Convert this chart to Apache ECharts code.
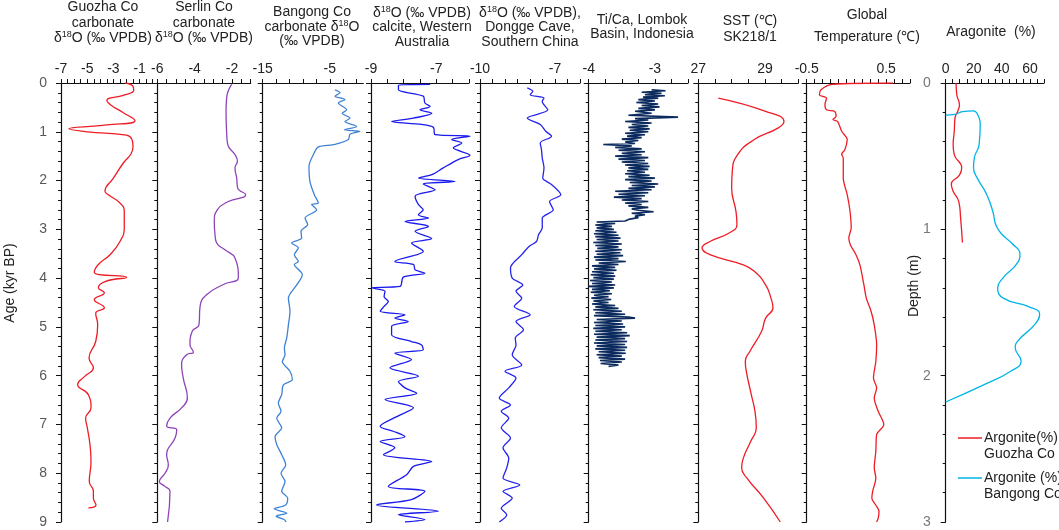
<!DOCTYPE html>
<html>
<head>
<meta charset="utf-8">
<script src="https://cdn.jsdelivr.net/npm/echarts@6/dist/echarts.min.js"></script>
<style>
  html, body { margin: 0; padding: 0; background: #fff; }
  #chart { width: 1059px; height: 530px; }
</style>
</head>
<body>
<div id="chart"></div>
<script>
const FONT = 'Arial, "Liberation Sans", sans-serif';

// ---- data: [age (kyr BP), value] ----
const guozhaD18O = [[0,-2.1],[0.07,-1.5],[0.15,-1.45],[0.25,-2.2],[0.36,-3.5],[0.45,-3.2],[0.6,-2.3],[0.77,-1.35],
  [0.86,-3.5],[0.94,-6.4],[1.0,-5.0],[1.07,-2.0],[1.15,-1.6],[1.3,-1.5],[1.45,-1.65],[1.64,-2.24],[1.95,-3.0],
  [2.22,-3.64],[2.29,-3.39],[2.46,-2.5],[2.63,-2.17],[2.97,-2.17],[3.25,-2.5],[3.52,-3.26],[3.72,-4.15],
  [3.88,-4.46],[3.98,-1.99],[4.07,-3.64],[4.2,-4.15],[4.3,-3.69],[4.44,-4.46],[4.61,-3.69],[4.72,-4.35],
  [4.96,-4.2],[5.3,-4.35],[5.64,-4.86],[5.84,-4.53],[6.01,-5.17],[6.18,-5.73],[6.39,-4.91],[6.66,-4.71],
  [6.87,-5.12],[7.07,-4.99],[7.41,-4.79],[7.76,-4.71],[8.17,-4.84],[8.37,-4.53],[8.51,-4.53],[8.65,-4.33],[8.71,-4.91]];

const serlinD18O = [[0.03,-2.02],[0.31,-2.29],[0.58,-2.32],[1.0,-2.29],[1.26,-2.23],[1.47,-1.84],[1.6,-1.71],
  [1.74,-1.84],[1.95,-1.75],[2.15,-1.7],[2.29,-1.27],[2.43,-2.2],[2.6,-2.79],[2.84,-2.95],[3.11,-2.91],
  [3.28,-2.82],[3.42,-2.38],[3.59,-1.84],[3.98,-1.66],[4.13,-2.46],[4.34,-3.36],[4.58,-3.71],[4.96,-3.77],
  [5.09,-4.13],[5.36,-4.25],[5.52,-4.07],[5.57,-4.43],[5.77,-4.7],[6.05,-4.61],[6.46,-4.39],[6.66,-4.7],
  [6.87,-5.32],[7.03,-5.5],[7.11,-4.96],[7.28,-5.05],[7.62,-5.5],[7.83,-5.41],[8.0,-5.59],[8.17,-5.89],
  [8.27,-5.59],[8.37,-5.32],[9.0,-5.45]];

const bangongD18O = [[0.14,-4.22],[0.2,-3.47],[0.27,-4.22],[0.34,-2.73],[0.41,-3.72],[0.55,-2.48],[0.62,-3.13],
  [0.72,-1.98],[0.79,-2.73],[0.89,-0.99],[0.96,-2.83],[0.99,-0.49],[1.05,-1.98],[1.16,-2.23],[1.26,-4.22],
  [1.31,-6.7],[1.47,-7.45],[1.71,-8.1],[2.02,-7.95],[2.29,-7.3],[2.46,-6.7],[2.49,-7.7],[2.6,-6.95],
  [2.77,-8.69],[2.9,-8.29],[3.04,-9.29],[3.18,-9.19],[3.28,-10.68],[3.38,-9.68],[3.52,-10.28],[3.66,-9.68],
  [3.72,-10.28],[3.93,-9.09],[4.14,-9.93],[4.41,-11.17],[4.68,-10.93],[4.96,-11.17],[5.23,-11.42],
  [5.43,-11.77],[5.57,-11.67],[5.71,-12.07],[5.91,-10.93],[6.08,-10.58],[6.19,-11.92],[6.39,-12.17],
  [6.56,-12.67],[6.73,-12.27],[6.87,-12.91],[7.07,-12.17],[7.25,-13.16],[7.41,-12.91],[7.62,-12.17],
  [7.83,-11.57],[8.0,-12.27],[8.17,-11.67],[8.37,-12.17],[8.51,-11.27],[8.65,-11.57],[8.73,-13.3],
  [8.82,-11.4],[8.88,-13.0],[8.95,-11.8],[9.0,-11.5]];

const waD18O = [[0.03,-7.19],[0.04,-8.16],[0.14,-8.16],[0.27,-7.4],[0.41,-7.35],[0.48,-7.19],[0.55,-7.5],
  [0.62,-7.14],[0.72,-7.7],[0.79,-8.37],[0.85,-7.45],[0.91,-7.09],[1.06,-7.04],[1.09,-5.97],[1.16,-6.53],
  [1.23,-6.22],[1.33,-6.48],[1.48,-5.97],[1.57,-6.33],[1.74,-6.79],[1.88,-7.14],[1.95,-7.55],[2.02,-6.43],
  [2.07,-7.4],[2.19,-7.04],[2.32,-7.65],[2.49,-7.55],[2.6,-7.4],[2.7,-7.55],[2.77,-7.24],[2.84,-7.96],
  [2.94,-7.24],[3.04,-7.65],[3.19,-7.14],[3.28,-7.76],[3.45,-7.4],[3.66,-8.27],[3.72,-7.7],[3.83,-7.65],
  [3.9,-7.35],[3.98,-8.01],[4.17,-8.11],[4.2,-8.98],[4.27,-8.57],[4.38,-8.6],[4.48,-8.47],[4.58,-8.6],
  [4.68,-8.72],[4.75,-7.96],[4.82,-8.27],[4.89,-7.86],[4.99,-8.37],[5.16,-8.37],[5.3,-7.76],[5.37,-7.45],
  [5.47,-7.4],[5.54,-8.27],[5.67,-7.76],[5.84,-8.42],[6.01,-7.55],[6.12,-8.16],[6.25,-7.96],[6.36,-7.6],
  [6.49,-8.57],[6.66,-7.7],[6.84,-8.21],[7.04,-8.72],[7.14,-8.32],[7.25,-7.96],[7.35,-8.72],[7.48,-8.27],
  [7.62,-8.62],[7.76,-7.14],[7.86,-7.7],[8.03,-7.91],[8.27,-8.47],[8.37,-7.35],[8.54,-7.76],[8.65,-8.83],
  [8.78,-6.94],[8.85,-8.16],[8.95,-7.35],[9.0,-7.96]];

const donggeD18O = [[0.1,-8.11],[0.17,-7.89],[0.24,-7.99],[0.31,-7.44],[0.38,-7.51],[0.55,-7.29],[0.72,-8.11],
  [0.85,-7.59],[0.99,-7.37],[1.09,-7.14],[1.23,-7.59],[1.37,-7.54],[1.54,-7.51],[1.74,-7.44],[1.95,-7.49],
  [2.08,-7.14],[2.29,-6.77],[2.43,-7.22],[2.6,-7.07],[2.77,-7.51],[2.97,-7.51],[3.11,-7.66],[3.25,-7.74],
  [3.35,-8.04],[3.52,-8.33],[3.79,-8.78],[4.0,-8.71],[4.14,-8.29],[4.27,-8.56],[4.41,-8.33],[4.58,-8.63],
  [4.75,-7.99],[4.89,-8.56],[5.06,-8.26],[5.23,-8.59],[5.37,-8.56],[5.57,-8.71],[5.78,-8.33],[5.91,-9.0],
  [6.05,-8.56],[6.25,-8.85],[6.46,-9.23],[6.6,-8.78],[6.73,-9.15],[6.87,-8.85],[7.07,-9.15],[7.28,-8.78],
  [7.48,-9.08],[7.69,-8.85],[7.89,-8.93],[8.1,-9.08],[8.24,-8.41],[8.37,-9.08],[8.51,-8.71],[8.72,-9.15],
  [8.85,-8.93],[9.0,-9.23]];

const ticaLombok = [[0.14,-3.05],[0.16,-2.84],[0.19,-3.2],[0.21,-2.9],[0.24,-3.15],[0.26,-2.85],[0.29,-3.18],
  [0.31,-2.95],[0.34,-3.25],[0.37,-3.0],[0.4,-3.28],[0.43,-2.95],[0.46,-3.2],[0.49,-2.93],[0.52,-3.25],
  [0.55,-3.0],[0.58,-3.3],[0.62,-3.05],[0.66,-3.4],[0.7,-2.65],[0.73,-3.3],[0.76,-3.1],[0.79,-3.45],
  [0.82,-3.05],[0.85,-3.35],[0.88,-3.1],[0.91,-3.4],[0.94,-3.08],[0.97,-3.38],[1.0,-3.1],[1.03,-3.45],
  [1.06,-3.15],[1.09,-3.42],[1.12,-3.2],[1.15,-3.5],[1.18,-3.25],[1.21,-3.45],[1.24,-3.3],[1.26,-3.78],
  [1.29,-3.35],[1.32,-3.6],[1.35,-3.2],[1.38,-3.55],[1.41,-3.15],[1.44,-3.5],[1.47,-3.2],[1.5,-3.6],
  [1.53,-3.1],[1.56,-3.55],[1.59,-3.15],[1.62,-3.5],[1.65,-3.1],[1.68,-3.45],[1.71,-3.08],[1.74,-3.4],
  [1.77,-3.1],[1.8,-3.42],[1.83,-3.15],[1.86,-3.45],[1.89,-3.08],[1.92,-3.4],[1.95,-3.0],[1.98,-3.45],
  [2.01,-3.05],[2.04,-3.38],[2.07,-2.95],[2.1,-3.35],[2.13,-3.0],[2.16,-3.4],[2.19,-3.05],[2.22,-3.6],
  [2.25,-3.1],[2.28,-3.55],[2.31,-3.15],[2.34,-3.62],[2.37,-3.2],[2.4,-3.5],[2.43,-3.1],[2.46,-3.45],
  [2.49,-3.2],[2.52,-3.4],[2.55,-3.1],[2.58,-3.35],[2.61,-3.25],[2.64,-3.02],[2.67,-3.35],[2.7,-3.15],
  [2.73,-3.3],[2.76,-3.25],[2.79,-3.38],[2.83,-3.45],[2.85,-3.88],[2.88,-3.6],[2.91,-3.9],[2.94,-3.65],
  [2.97,-3.88],[3.0,-3.62],[3.03,-3.9],[3.06,-3.58],[3.09,-3.92],[3.12,-3.55],[3.15,-3.9],[3.18,-3.52],
  [3.21,-3.88],[3.24,-3.55],[3.27,-3.93],[3.3,-3.5],[3.33,-3.9],[3.36,-3.55],[3.39,-3.87],[3.42,-3.5],
  [3.45,-3.9],[3.48,-3.52],[3.51,-3.88],[3.54,-3.48],[3.57,-3.92],[3.6,-3.55],[3.63,-3.9],[3.66,-3.44],
  [3.69,-3.85],[3.72,-3.55],[3.75,-3.95],[3.78,-3.6],[3.81,-3.92],[3.84,-3.58],[3.87,-3.95],[3.9,-3.62],
  [3.93,-3.97],[3.96,-3.6],[3.99,-3.93],[4.02,-3.62],[4.05,-3.98],[4.08,-3.65],[4.11,-3.95],[4.14,-3.6],
  [4.17,-4.0],[4.2,-3.62],[4.23,-3.95],[4.26,-3.68],[4.29,-3.97],[4.32,-3.65],[4.35,-3.92],[4.38,-3.7],
  [4.41,-3.96],[4.44,-3.66],[4.47,-3.93],[4.5,-3.7],[4.53,-3.95],[4.56,-3.6],[4.59,-3.9],[4.62,-3.55],
  [4.65,-3.93],[4.68,-3.5],[4.71,-3.9],[4.74,-3.45],[4.77,-3.92],[4.8,-3.4],[4.82,-3.3],[4.85,-3.88],
  [4.88,-3.5],[4.91,-3.92],[4.94,-3.48],[4.97,-3.9],[5.0,-3.45],[5.03,-3.93],[5.06,-3.5],[5.09,-3.9],
  [5.12,-3.42],[5.15,-3.92],[5.18,-3.38],[5.21,-3.88],[5.24,-3.45],[5.27,-3.9],[5.3,-3.42],[5.33,-3.92],
  [5.36,-3.45],[5.39,-3.88],[5.42,-3.42],[5.45,-3.9],[5.48,-3.45],[5.51,-3.85],[5.54,-3.44],[5.57,-3.88],
  [5.6,-3.5],[5.63,-3.85],[5.66,-3.45],[5.69,-3.83],[5.72,-3.5],[5.75,-3.82],[5.78,-3.55],[5.81,-3.7]];

const sstSK218 = [[0.31,27.6],[0.58,29.02],[0.79,29.57],[0.92,29.4],[1.16,28.68],[1.47,28.18],[1.81,28.02],
  [2.15,28.0],[2.63,28.13],[2.9,28.16],[3.08,27.91],[3.25,27.35],[3.38,27.11],[3.52,27.35],[3.73,28.35],
  [3.86,28.68],[4.14,29.02],[4.41,29.18],[4.61,29.24],[4.82,29.02],[5.09,28.9],[5.5,28.55],[5.71,28.41],
  [5.91,28.44],[6.39,28.59],[6.73,28.7],[7.07,28.74],[7.35,28.57],[7.69,28.35],[7.89,28.3],[8.1,28.46],
  [8.51,28.96],[9.0,29.46]];

const globalTemp = [[0,0.585],[0.03,-0.18],[0.14,-0.32],[0.24,-0.34],[0.31,-0.25],[0.44,-0.27],[0.55,-0.25],
  [0.58,-0.15],[0.68,-0.13],[0.75,-0.17],[0.79,-0.11],[0.99,-0.06],[1.16,0.01],[1.37,-0.02],[1.46,-0.06],
  [1.54,-0.04],[1.95,-0.04],[2.29,0.01],[2.63,0.045],[2.97,0.06],[3.18,0.03],[3.32,0.05],[3.52,0.12],
  [3.73,0.17],[4.14,0.22],[4.41,0.25],[4.68,0.31],[4.96,0.35],[5.37,0.38],[5.71,0.37],[6.05,0.34],
  [6.25,0.38],[6.46,0.35],[6.73,0.4],[7.0,0.47],[7.21,0.38],[7.55,0.37],[7.89,0.35],[8.1,0.37],
  [8.37,0.33],[8.51,0.32],[8.68,0.38],[8.78,0.41],[8.92,0.4],[9.0,0.38]];

// ---- data: [depth (m), aragonite %] ----
const aragoniteGuozha = [[0,7.4],[0.08,7.9],[0.15,9.8],[0.19,8.7],[0.24,6.6],[0.33,6.1],[0.42,5.3],[0.49,6.1],
  [0.58,11.4],[0.63,9.8],[0.69,4.0],[0.74,5.3],[0.81,9.3],[0.92,10.6],[1.09,11.9]];

const aragoniteBangong = [[0.22,0],[0.215,6.6],[0.195,11.9],[0.19,19.8],[0.22,23],[0.28,24.6],[0.42,23.8],
  [0.51,20.4],[0.58,19.8],[0.65,22.5],[0.76,29.1],[0.88,33.6],[0.97,35.7],[1.03,39.7],[1.1,47.6],
  [1.17,52.9],[1.24,50.3],[1.33,41],[1.4,37],[1.47,41],[1.53,59.5],[1.58,66.9],[1.65,63.5],[1.76,51.6],
  [1.81,49.5],[1.9,53.7],[1.97,46.3],[2.06,27.8],[2.18,0]];

// ---- top-axis tick labels ----
const guozhaLabels = [-7, -5, -3, -1];
const serlinLabels = [-6, -4, -2];
const bangongLabels = [-15, -5];
const waLabels = [-9, -7];
const donggeLabels = [-10, -7];
const ticaLabels = [-4, -3];
const sstLabels = [27, 29];
const tempLabels = [-0.5, 0.5];
const aragoniteLabels = [0, 20, 40, 60];

function tickRange(min, max, step) {
  const out = [];
  for (let v = min; v <= max + 1e-9; v += step) out.push(+v.toFixed(4));
  return out;
}

const panels = [
  { left: 61, width: 91.7, min: -7, max: 0, ticks: tickRange(-7, 0, 0.5), labels: guozhaLabels,
    series: [{ data: guozhaD18O, color: '#ee1c25' }] },
  { left: 157.3, width: 93.4, min: -6, max: -1, ticks: tickRange(-6, -1, 0.5), labels: serlinLabels,
    series: [{ data: serlinD18O, color: '#8e44b8' }] },
  { left: 262.7, width: 100.6, min: -15, max: 0, ticks: tickRange(-15, -1, 2), labels: bangongLabels,
    series: [{ data: bangongD18O, color: '#3d82d4', smooth: 0.3 }] },
  { left: 371, width: 98, min: -9, max: -6, ticks: tickRange(-9, -6, 0.5), labels: waLabels,
    series: [{ data: waD18O, color: '#1a1aee', smooth: 0.3 }] },
  { left: 480, width: 100, min: -10, max: -6, ticks: tickRange(-10, -6, 0.5), labels: donggeLabels,
    series: [{ data: donggeD18O, color: '#2424ee', smooth: 0.3 }] },
  { left: 588.7, width: 99.3, min: -4, max: -2.5, ticks: tickRange(-4, -2.5, 0.25), labels: ticaLabels,
    series: [{ data: ticaLombok, color: '#0b2a5e', smooth: false, width: 1.6 }] },
  { left: 698.3, width: 100, min: 27, max: 30, ticks: tickRange(27, 30, 0.5), labels: sstLabels,
    series: [{ data: sstSK218, color: '#ee1c25' }] },
  { left: 806.7, width: 103.3, min: -0.5, max: 0.8, ticks: tickRange(-0.5, 0.8, 0.1), labels: tempLabels,
    series: [{ data: globalTemp, color: '#ee1c25', smooth: 0.3 }] },
  { left: 945.7, width: 98.3, min: 0, max: 70, ticks: tickRange(0, 70, 5), labels: aragoniteLabels, depth: true,
    series: [{ data: aragoniteGuozha, color: '#ee1c25' }, { data: aragoniteBangong, color: '#00b4e6' }] }
];

const titles = [
  { x: 103, top: 0, lh: 15.2, text: '{n|Guozha Co}\n{n|carbonate}\n{n|δ}{s|18}{n|O (‰ VPDB)}' },
  { x: 204, top: 0, lh: 15.2, text: '{n|Serlin Co}\n{n|carbonate}\n{n|δ}{s|18}{n|O (‰ VPDB)}' },
  { x: 312, top: 5, lh: 14.5, text: '{n|Bangong Co}\n{n|carbonate δ}{s|18}{n|O}\n{n|(‰ VPDB)}' },
  { x: 422, top: 5.5, lh: 14.5, text: '{n|δ}{s|18}{n|O (‰ VPDB)}\n{n|calcite, Western}\n{n|Australia}' },
  { x: 530, top: 5.5, lh: 14.5, text: '{n|δ}{s|18}{n|O (‰ VPDB),}\n{n|Dongge Cave,}\n{n|Southern China}' },
  { x: 642, top: 13.5, lh: 14, text: '{n|Ti/Ca, Lombok}\n{n|Basin, Indonesia}' },
  { x: 750, top: 12.7, lh: 16, text: '{n|SST (℃)}\n{n|SK218/1}' },
  { x: 867, top: 4, lh: 22, text: '{n|Global}\n{n|Temperature (℃)}' },
  { x: 991, top: 24, lh: 16, text: '{n|Aragonite  (%)}' }
];

const AXIS_COLOR = '#111';
const grid = [], xAxis = [], yAxis = [], series = [];

panels.forEach((p, i) => {
  grid.push({ left: p.left, top: 83, width: p.width, height: 439, containLabel: false });
  xAxis.push({
    gridIndex: i, type: 'value', position: 'top', min: p.min, max: p.max,
    axisLine: { show: true, onZero: false, lineStyle: { color: AXIS_COLOR, width: 1.2 } },
    axisTick: { show: true, inside: false, length: 4, customValues: p.ticks, lineStyle: { color: AXIS_COLOR, width: 1 } },
    axisLabel: { show: true, customValues: p.labels, margin: 7, fontSize: 14, color: '#222', fontFamily: FONT,
      showMinLabel: true, showMaxLabel: true },
    splitLine: { show: false }
  });
  const isFirst = i === 0;
  yAxis.push({
    gridIndex: i, type: 'value', inverse: true, min: 0, max: p.depth ? 3 : 9, interval: 1,
    axisLine: { show: true, onZero: false, lineStyle: { color: AXIS_COLOR, width: 1.2 } },
    axisTick: { show: true, inside: false, length: 5, lineStyle: { color: AXIS_COLOR, width: 1 } },
    minorTick: { show: true, splitNumber: 5, length: 3, lineStyle: { color: AXIS_COLOR, width: 1 } },
    axisLabel: { show: isFirst || !!p.depth, margin: isFirst ? 14 : 15, fontSize: 14,
      color: p.depth ? '#777' : '#595959', fontFamily: FONT },
    splitLine: { show: false },
    minorSplitLine: { show: false }
  });
  p.series.forEach(s => {
    series.push({
      type: 'line', xAxisIndex: i, yAxisIndex: i,
      data: s.data.map(d => [d[1], d[0]]),
      symbol: 'none', smooth: s.smooth !== undefined ? s.smooth : 0.5,
      lineStyle: { color: s.color, width: s.width || 1.3 },
      itemStyle: { color: s.color },
      clip: true, silent: true
    });
  });
});

const title = titles.map(t => ({
  text: t.text, left: t.x, top: t.top, textAlign: 'center', padding: 0,
  textStyle: {
    fontSize: 14, fontWeight: 'normal', color: '#222', fontFamily: FONT, lineHeight: t.lh,
    rich: {
      n: { fontSize: 14, color: '#222', fontFamily: FONT, lineHeight: t.lh },
      s: { fontSize: 9, color: '#222', fontFamily: FONT, padding: [0, 0, 6, 0] }
    }
  }
}));

const legendFont = { fontSize: 14, fontFamily: FONT, fill: '#222', lineHeight: 16, align: 'left', verticalAlign: 'top' };
const axisNameFont = { fontSize: 14, fontFamily: FONT, fill: '#222', align: 'center', verticalAlign: 'middle' };
const graphic = [
  { type: 'text', x: 10, y: 283, rotation: Math.PI / 2, style: Object.assign({ text: 'Age (kyr BP)' }, axisNameFont) },
  { type: 'text', x: 914, y: 286, rotation: Math.PI / 2, style: Object.assign({ text: 'Depth (m)' }, axisNameFont) },
  { type: 'line', shape: { x1: 958, y1: 438, x2: 982, y2: 438 }, style: { stroke: '#ee1c25', lineWidth: 1.5 } },
  { type: 'text', x: 984, y: 430, style: Object.assign({ text: 'Argonite(%)\nGuozha Co' }, legendFont) },
  { type: 'line', shape: { x1: 958, y1: 478, x2: 982, y2: 478 }, style: { stroke: '#00b4e6', lineWidth: 1.5 } },
  { type: 'text', x: 984, y: 470, style: Object.assign({ text: 'Argonite (%)\nBangong Co' }, legendFont) }
];

const chart = echarts.init(document.getElementById('chart'));
chart.setOption({
  animation: false,
  backgroundColor: '#fff',
  title, grid, xAxis, yAxis, series, graphic
});
</script>
</body>
</html>
